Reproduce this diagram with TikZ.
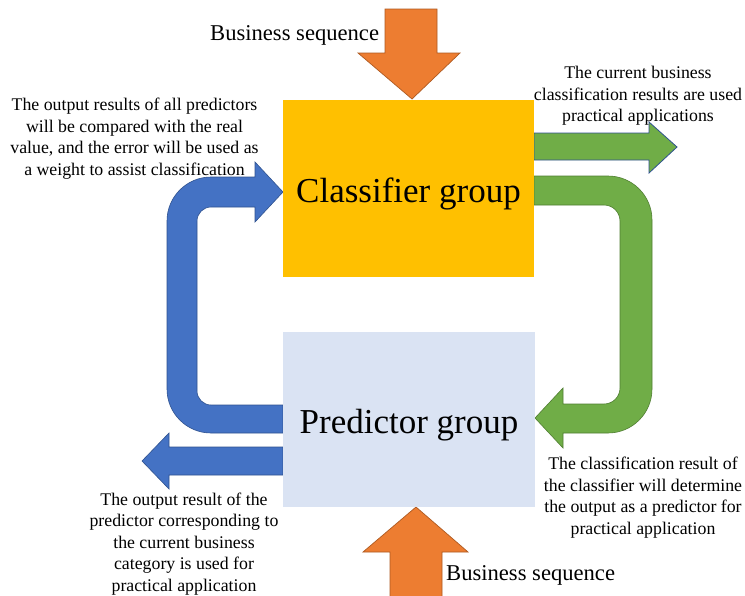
\documentclass[tikz,border=0pt]{standalone}
\usepackage{fontspec}
\setmainfont{Liberation Serif}
\usetikzlibrary{backgrounds}
\definecolor{cyel}{HTML}{FFC000}
\definecolor{cpred}{HTML}{DAE3F3}
\definecolor{corg}{HTML}{ED7D31}
\definecolor{corgd}{HTML}{AE5A21}
\definecolor{cblu}{HTML}{4472C4}
\definecolor{cblud}{HTML}{2F528F}
\definecolor{cgrn}{HTML}{70AD47}
\definecolor{cgrnd}{HTML}{507E32}
\begin{document}
\begin{tikzpicture}[x=1pt,y=-1pt,
  groupbox/.style={rectangle, inner sep=0pt, text height=35.2pt, text depth=7.6pt, font=\fontsize{35}{41}\selectfont},
  note/.style={align=center, inner sep=0pt, font=\fontsize{17.8}{21.6}\selectfont},
  seqlabel/.style={inner sep=0pt, anchor=base west, font=\fontsize{22.6}{26}\selectfont},
  orangearrow/.style={fill=corg, draw=corgd, line width=0.7pt, line join=miter},
  bluearrow/.style={fill=cblu, draw=cblud, line width=0.6pt, line join=miter},
  greenarrow/.style={fill=cgrn, draw=cgrnd, line width=0.6pt, line join=miter},
  outarrow/.style={fill=cgrn, draw=cblud, line width=0.8pt, line join=miter}]
\useasboundingbox (0,0) rectangle (745,595);

% group boxes
\node[groupbox, fill=cyel, minimum width=251pt, minimum height=177pt] (cls) at (408.5,188.5) {Classifier group};
\node[groupbox, fill=cpred, minimum width=252pt, minimum height=175pt] (pred) at (409,419.5) {Predictor group};

% texts
\node[seqlabel] (seqtop) at (210,40) {Business sequence};
\node[seqlabel] (seqbot) at (446,580) {Business sequence};
\node[note] (notetl) at (134.5,138.5) {The output results of all predictors\\will be compared with the real\\value, and the error will be used as\\a weight to assist classification};
\node[note] (notetr) at (638,96) {The current business\\classification results are used\\practical applications};
\node[note] (notebr) at (643,497.5) {The classification result of\\the classifier will determine\\the output as a predictor for\\practical application};
\node[note] (notebl) at (184,544) {The output result of the\\predictor corresponding to\\the current business\\category is used for\\practical application};

\begin{pgfonlayer}{background}
\fill[white] (0,0) rectangle (745,595);
% top orange arrow into classifier
\draw[orangearrow] (385,9) -- (437,9) -- (437,53) -- (460,53) -- (412,99) -- (358,53) -- (385,53) -- cycle;
% bottom orange arrow into predictor
\draw[orangearrow] (390,600) -- (390,552) -- (363,552) -- (416,507) -- (468,552) -- (442,552) -- (442,600);
% blue U arrow: predictor -> classifier
\draw[bluearrow] (255,177) -- (211,177) .. controls (186.7,177) and (167,196.7) .. (167,221) -- (167,389)
  .. controls (167,413.3) and (186.7,433) .. (211,433) -- (283,433) -- (283,405) -- (211,405)
  .. controls (203.3,405) and (197,398.7) .. (197,391) -- (197,221)
  .. controls (197,213.3) and (203.3,207) .. (211,207) -- (255,207) -- (255,222) -- (283,192) -- (255,162) -- cycle;
% blue output arrow from predictor
\draw[bluearrow] (283,447) -- (169,447) -- (169,433) -- (142,461) -- (169,489) -- (169,475) -- (283,475) -- cycle;
% green output arrow from classifier
\draw[outarrow] (534,133) -- (649,133) -- (649,122) -- (677,147) -- (649,173) -- (649,160) -- (534,160) -- cycle;
% green U arrow: classifier -> predictor
\draw[greenarrow] (534,176) -- (608,176) .. controls (632.3,176) and (652,195.7) .. (652,220) -- (652,389)
  .. controls (652,413.3) and (632.3,433) .. (608,433) -- (563,433) -- (563,448) -- (535,418) -- (563,388)
  -- (563,404) -- (604,404) .. controls (612.8,404) and (620,396.8) .. (620,388) -- (620,221)
  .. controls (620,212.2) and (612.8,205) .. (604,205) -- (534,205) -- cycle;
\end{pgfonlayer}
\end{tikzpicture}
\end{document}
